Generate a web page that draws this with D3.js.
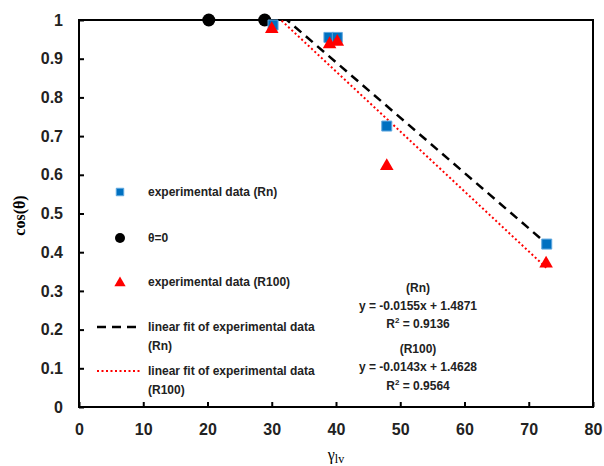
<!DOCTYPE html>
<html>
<head>
<meta charset="utf-8">
<script src="https://cdn.jsdelivr.net/npm/d3@7"></script>
<style>
body { margin: 0; background: #fff; }
text { font-family: "Liberation Sans", Arial, sans-serif; }
</style>
</head>
<body>
<svg id="chart"></svg>
<script>
// data
var rnX = [30.2, 38.9, 40.2, 47.9, 72.8];
var rnY = [0.987, 0.955, 0.955, 0.726, 0.421];
var thetaX = [20.2, 28.9];
var thetaY = [1, 1];
var r100X = [30.0, 39.0, 40.2, 47.9, 72.7];
var r100Y = [0.979, 0.94, 0.946, 0.625, 0.373];
// fitted lines as drawn: [slope, intercept], over x range of data
var fitBlack = [-0.0143, 1.4628];
var fitRed = [-0.0155, 1.4871];
var fitRange = [30, 72.8];
var xTicks = [0, 10, 20, 30, 40, 50, 60, 70, 80];
var yTicks = [0, 0.1, 0.2, 0.3, 0.4, 0.5, 0.6, 0.7, 0.8, 0.9, 1];
var legendLabels = ["experimental data (Rn)", "θ=0", "experimental data (R100)",
  ["linear fit of experimental data", "(Rn)"], ["linear fit of experimental data", "(R100)"]];
var noteLines = ["(Rn)", "y = -0.0155x + 1.4871", "R2 = 0.9136", "(R100)", "y = -0.0143x + 1.4628", "R2 = 0.9564"];

function draw() {
var width = 604, height = 466;
var pl = 79, pr = 593, pt = 20, pb = 407;

var svg = d3.select("#chart").attr("width", width).attr("height", height);

var xs = d3.scaleLinear().domain([0, 80]).range([pl, pr]);
var ys = d3.scaleLinear().domain([0, 1]).range([pb, pt]);

// ================== AXES ==================
var xAxis = svg.append("g")
  .attr("transform", "translate(0," + pb + ")")
  .call(d3.axisBottom(xs).tickValues(xTicks).tickSize(-5).tickPadding(12).tickFormat(d3.format("d")));
var yAxis = svg.append("g")
  .attr("transform", "translate(" + pl + ",0)")
  .call(d3.axisLeft(ys).tickValues(yTicks).tickSize(-5).tickPadding(16).tickFormat(d => d === 0 || d === 1 ? d : d3.format(".1f")(d)));

[xAxis, yAxis].forEach(function(a) {
  a.select(".domain").remove();
  a.selectAll("line").attr("stroke", "#000").attr("stroke-width", 2);
  a.selectAll("text").attr("fill", "#222").style("font-size", "16px").style("font-weight", "bold");
});
xAxis.selectAll("text").attr("dy", "1em");

// box
svg.append("rect")
  .attr("x", pl).attr("y", pt)
  .attr("width", pr - pl).attr("height", pb - pt)
  .attr("fill", "none").attr("stroke", "#000").attr("stroke-width", 2);

// axis titles
svg.append("text")
  .attr("transform", "translate(25," + ((pt + pb) / 2 + 2) + ") rotate(-90)")
  .attr("text-anchor", "middle")
  .style("font-family", "'Liberation Serif', serif").style("font-size", "16px").style("font-weight", "bold")
  .text("cos(θ)");
var xt = svg.append("text")
  .attr("x", 336).attr("y", 460)
  .attr("text-anchor", "middle")
  .style("font-family", "'Liberation Serif', serif").style("font-size", "16px");
xt.append("tspan").text("γ");
xt.append("tspan").attr("dy", 3).style("font-size", "12px").text("lv");

// ================== FIT LINES ==================
svg.append("clipPath").attr("id", "clip")
  .append("rect").attr("x", pl).attr("y", pt).attr("width", pr - pl).attr("height", pb - pt);

var line = d3.line().x(d => xs(d[0])).y(d => ys(d[1]));
function fitPts(f) { return fitRange.map(x => [x, f[0] * x + f[1]]); }

svg.append("path").datum(fitPts(fitBlack))
  .attr("clip-path", "url(#clip)")
  .attr("fill", "none").attr("stroke", "#000").attr("stroke-width", 2.5)
  .attr("stroke-dasharray", "9,6")
  .attr("d", line);
svg.append("path").datum(fitPts(fitRed))
  .attr("clip-path", "url(#clip)")
  .attr("fill", "none").attr("stroke", "#ff0000").attr("stroke-width", 2)
  .attr("stroke-dasharray", "2,2.5")
  .attr("d", line);

// ================== MARKERS ==================
var sq = d3.symbol().type(d3.symbolSquare).size(100);
var tri = d3.symbol().type(d3.symbolTriangle).size(80);

svg.append("g").selectAll("circle").data(thetaX).join("circle")
  .attr("cx", d => xs(d)).attr("cy", (d, i) => ys(thetaY[i])).attr("r", 6.5)
  .attr("fill", "#000");
svg.append("g").selectAll("path").data(rnX).join("path")
  .attr("transform", (d, i) => "translate(" + xs(d) + "," + ys(rnY[i]) + ")")
  .attr("d", sq).attr("fill", "#0070c0").attr("stroke", "#5fa8e0").attr("stroke-width", 1);
svg.append("g").selectAll("path").data(r100X).join("path")
  .attr("transform", (d, i) => "translate(" + xs(d) + "," + (ys(r100Y[i]) + 1) + ")")
  .attr("d", tri).attr("fill", "#ff0000");

// ================== LEGEND ==================
var lg = svg.append("g");
var lgY = [192, 238, 282, 327, 371];
var lgX = 120, textX = 148;
lg.append("path").attr("transform", "translate(" + lgX + "," + lgY[0] + ")")
  .attr("d", d3.symbol().type(d3.symbolSquare).size(56)).attr("fill", "#0070c0").attr("stroke", "#5fa8e0");
lg.append("circle").attr("cx", lgX).attr("cy", lgY[1]).attr("r", 5).attr("fill", "#000");
lg.append("path").attr("transform", "translate(" + lgX + "," + (lgY[2] + 1) + ")")
  .attr("d", d3.symbol().type(d3.symbolTriangle).size(55)).attr("fill", "#ff0000");
lg.append("line").attr("x1", 97).attr("x2", 142).attr("y1", lgY[3]).attr("y2", lgY[3])
  .attr("stroke", "#000").attr("stroke-width", 2.5).attr("stroke-dasharray", "9,6");
lg.append("line").attr("x1", 97).attr("x2", 142).attr("y1", lgY[4]).attr("y2", lgY[4])
  .attr("stroke", "#ff0000").attr("stroke-width", 2).attr("stroke-dasharray", "2,2.5");

legendLabels.forEach(function(l, i) {
  var t = lg.append("text").attr("x", textX).attr("y", lgY[i] + 4)
    .style("font-size", "12px").style("font-weight", "bold").attr("fill", "#222");
  if (Array.isArray(l)) {
    t.append("tspan").attr("x", textX).text(l[0]);
    t.append("tspan").attr("x", textX).attr("dy", 19).text(l[1]);
  } else {
    t.text(l);
  }
});

// ================== EQUATIONS ==================
var noteY = [292, 310, 328, 353, 371, 390];
noteLines.forEach(function(s, i) {
  var t = svg.append("text").attr("x", 418).attr("y", noteY[i])
    .attr("text-anchor", "middle").style("font-size", "12px").style("font-weight", "bold").attr("fill", "#222");
  if (s.startsWith("R2")) {
    t.append("tspan").text("R");
    t.append("tspan").attr("dy", -5).style("font-size", "8px").text("2");
    t.append("tspan").attr("dy", 5).text(s.slice(2));
  } else {
    t.text(s);
  }
});
}
draw();
</script>
</body>
</html>
